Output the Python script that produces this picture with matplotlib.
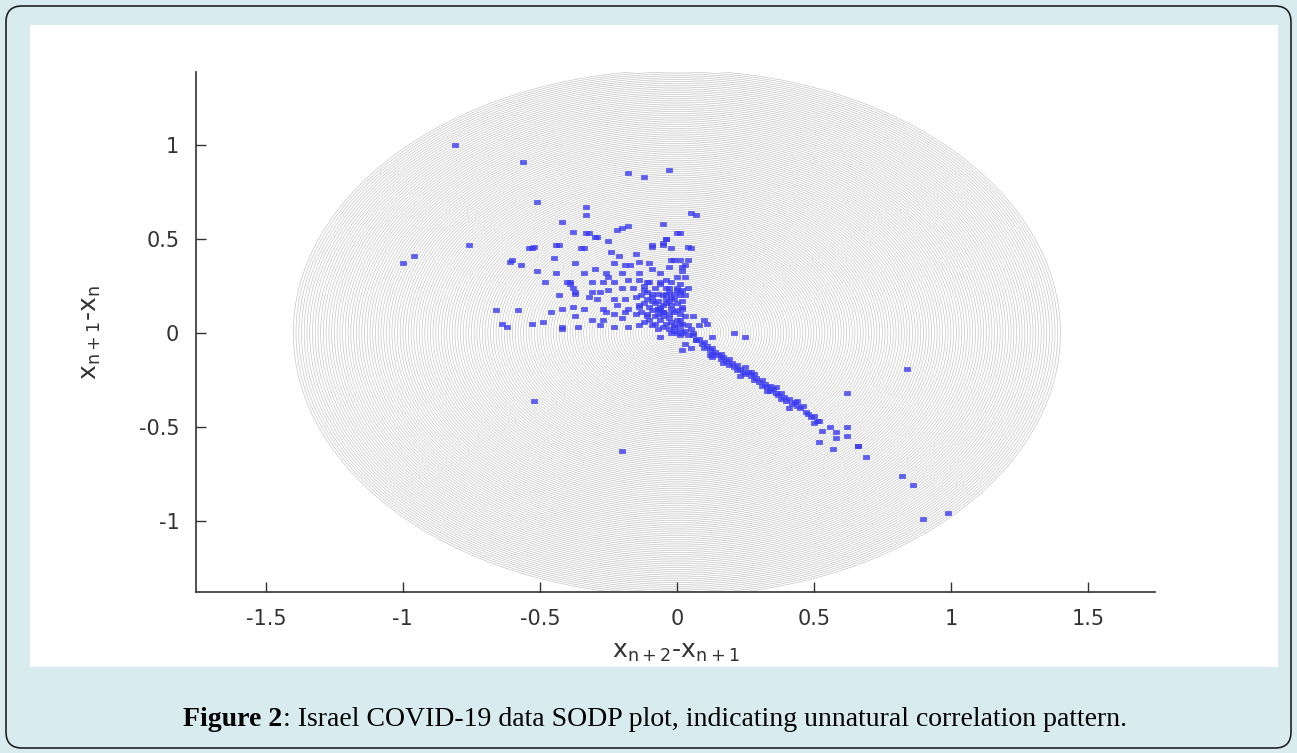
import numpy as np
import matplotlib
matplotlib.use("Agg")
import matplotlib.pyplot as plt
from matplotlib.patches import Circle, Rectangle, FancyBboxPatch
from matplotlib.collections import PatchCollection
from matplotlib.transforms import IdentityTransform

# SODP points: (x_{n+2}-x_{n+1}, x_{n+1}-x_n)
outlier_x = [-0.81, -0.56, -0.51, -0.18, -0.12, -0.03, 0.05, 0.07, -1.00, -0.96, -0.76,
             -0.52, -0.20, 0.62, 0.84, 0.82, 0.86, 0.90, 0.99, 0.69, 0.66]
outlier_y = [1.00, 0.91, 0.70, 0.85, 0.83, 0.87, 0.64, 0.63, 0.37, 0.41, 0.47,
             -0.36, -0.63, -0.32, -0.19, -0.76, -0.81, -0.99, -0.96, -0.66, -0.60]

fan_x = [-0.38, -0.32, -0.29, -0.25, -0.35, -0.24, -0.21, -0.15, -0.14, -0.19, -0.17, -0.23,
         -0.37, -0.30, -0.34, -0.26, -0.25, -0.20, -0.14, -0.09, -0.06, -0.10, -0.09, -0.05,
         -0.04, 0.00, 0.04, -0.01, -0.02, 0.01, 0.04, -0.03, 0.02, -0.40, -0.39, -0.37,
         -0.31, -0.27, -0.23, -0.18, -0.14, -0.11, -0.06, -0.04, 0.00, 0.02, -0.31, -0.28,
         -0.25, -0.20, -0.16, -0.12, -0.09, -0.32, -0.29, -0.23, -0.19, -0.15, -0.11, -0.07,
         -0.03, -0.42, -0.38, -0.34, -0.27, -0.22, -0.18, -0.14, -0.07, -0.05, -0.26, -0.23,
         -0.19, -0.15, -0.11, -0.31, -0.27, -0.20, -0.42, -0.36, -0.28, -0.23, -0.18, -0.14,
         -0.09, -0.06, 0.03, 0.07,
         -0.33, -0.33, -0.42, -0.33, -0.30, -0.22, -0.20, -0.18, -0.05, 0.01, -0.04, -0.05,
         -0.02, 0.05, -0.09, -0.43, -0.54, -0.52, -0.34, -0.45, -0.60,
         -0.61, -0.57, -0.53, -0.44, -0.51, -0.44, -0.48, -0.39, -0.38, -0.43, -0.37,
         -0.66, -0.58, -0.64, -0.62, -0.53, -0.49, -0.46, -0.42, -0.37]
fan_y = [0.54, 0.53, 0.51, 0.49, 0.45, 0.43, 0.41, 0.42, 0.38, 0.36, 0.36, 0.37,
         0.37, 0.34, 0.32, 0.32, 0.30, 0.32, 0.32, 0.34, 0.32, 0.37, 0.47, 0.48,
         0.50, 0.53, 0.46, 0.39, 0.39, 0.39, 0.39, 0.35, 0.35, 0.27, 0.26, 0.22,
         0.27, 0.27, 0.27, 0.28, 0.28, 0.27, 0.27, 0.24, 0.24, 0.23, 0.22, 0.22,
         0.23, 0.24, 0.24, 0.23, 0.21, 0.19, 0.18, 0.18, 0.18, 0.19, 0.18, 0.17,
         0.17, 0.13, 0.14, 0.13, 0.13, 0.15, 0.13, 0.14, 0.13, 0.11, 0.11, 0.10,
         0.11, 0.10, 0.09, 0.07, 0.07, 0.08, 0.03, 0.03, 0.04, 0.03, 0.03, 0.04,
         0.04, -0.02, -0.06, -0.04,
         0.67, 0.63, 0.59, 0.53, 0.51, 0.55, 0.56, 0.57, 0.58, 0.53, 0.50, 0.47,
         0.45, 0.45, 0.46, 0.47, 0.45, 0.46, 0.45, 0.40, 0.39,
         0.38, 0.36, 0.45, 0.47, 0.33, 0.32, 0.27, 0.27, 0.24, 0.20, 0.21,
         0.12, 0.12, 0.05, 0.03, 0.05, 0.06, 0.11, 0.02, 0.09]

core_x = [-0.12, -0.10, -0.08, -0.06, -0.04, -0.02, 0.00, 0.01, -0.13, -0.11, -0.09, -0.07,
          -0.05, -0.03, -0.01, 0.01, 0.02, -0.14, -0.12, -0.10, -0.08, -0.06, -0.04, -0.02,
          0.00, 0.02, -0.13, -0.11, -0.09, -0.07, -0.05, -0.03, -0.01, 0.01, 0.03, -0.12,
          -0.10, -0.08, -0.06, -0.04, -0.02, 0.00, 0.02, 0.04, -0.07, -0.05, -0.03, -0.01,
          0.01, 0.03, 0.00, -0.01, 0.01, 0.02, -0.02, 0.05, 0.04, 0.06, 0.02, 0.03, 0.03,
          0.04, 0.03, 0.06, 0.08, 0.11, 0.10, 0.02, 0.05, 0.21, 0.25, 0.13, 0.13,
          -0.01, 0.01, -0.03, -0.05, 0.00, -0.02, 0.02, -0.04, -0.01, 0.01, -0.03, 0.00,
          -0.06, -0.08, -0.05, -0.02, 0.01, -0.09, -0.07, -0.04]
core_y = [0.25, 0.27, 0.24, 0.26, 0.28, 0.27, 0.30, 0.26, 0.20, 0.22, 0.19, 0.21,
          0.20, 0.22, 0.21, 0.20, 0.17, 0.15, 0.16, 0.14, 0.16, 0.14, 0.16, 0.15,
          0.16, 0.13, 0.11, 0.10, 0.12, 0.10, 0.11, 0.10, 0.11, 0.10, 0.09, 0.06,
          0.07, 0.05, 0.07, 0.05, 0.06, 0.07, 0.05, 0.04, 0.02, 0.03, 0.02, 0.03,
          0.02, 0.01, 0.00, 0.01, -0.01, 0.00, 0.00, 0.02, -0.01, 0.00, 0.33, 0.30, 0.36,
          0.24, 0.20, 0.09, 0.04, 0.05, 0.07, -0.09, -0.08, 0.00, -0.02, -0.02, -0.13,
          0.04, 0.05, 0.08, 0.09, 0.12, 0.13, 0.14, 0.18, 0.18, 0.22, 0.24, 0.23,
          0.12, 0.09, 0.15, 0.19, 0.07, 0.17, 0.13, 0.21]

line_x = [0.06, 0.07, 0.08, 0.09, 0.10, 0.10, 0.11, 0.12, 0.13, 0.13, 0.14, 0.15, 0.16, 0.16,
          0.17, 0.18, 0.19, 0.19, 0.20, 0.21, 0.22, 0.22, 0.23, 0.24, 0.25, 0.25, 0.26, 0.27,
          0.28, 0.28, 0.29, 0.30, 0.31, 0.31, 0.32, 0.33, 0.34, 0.34, 0.35, 0.36, 0.37, 0.38,
          0.38, 0.39, 0.40, 0.41, 0.42, 0.43, 0.44, 0.45, 0.46, 0.47, 0.48, 0.49, 0.50, 0.51,
          0.50, 0.52, 0.53, 0.56, 0.58, 0.52, 0.57, 0.58, 0.62, 0.62, 0.66,
          0.12, 0.17, 0.23, 0.27, 0.33, 0.36, 0.41, 0.44]
line_y = [-0.01, -0.04, -0.03, -0.06, -0.05, -0.08, -0.07, -0.09, -0.08, -0.11, -0.10, -0.12,
          -0.11, -0.14, -0.13, -0.15, -0.14, -0.17, -0.16, -0.18, -0.17, -0.20, -0.19, -0.21,
          -0.18, -0.22, -0.21, -0.23, -0.22, -0.25, -0.24, -0.26, -0.25, -0.28, -0.27, -0.29,
          -0.28, -0.31, -0.30, -0.32, -0.33, -0.32, -0.35, -0.34, -0.36, -0.35, -0.38, -0.37,
          -0.39, -0.40, -0.39, -0.42, -0.43, -0.45, -0.44, -0.47, -0.48, -0.47, -0.52, -0.50,
          -0.53, -0.58, -0.62, -0.56, -0.50, -0.55, -0.60,
          -0.12, -0.16, -0.23, -0.21, -0.31, -0.29, -0.40, -0.36]

x_ticks = [-1.5, -1, -0.5, 0, 0.5, 1, 1.5]
x_labels = ['-1.5', '-1', '-0.5', '0', '0.5', '1', '1.5']
y_ticks = [-1, -0.5, 0, 0.5, 1]
y_labels = ['-1', '-0.5', '0', '0.5', '1']
ring_radii = np.arange(0.01, 1.405, 0.01)

W, H = 1297, 753
fig = plt.figure(figsize=(W / 100, H / 100), dpi=100)
fig.patch.set_facecolor('#d8ecf0')

# page frame and white panel
fig.patches.append(FancyBboxPatch((6, 5), W - 12, H - 11, boxstyle='round,pad=0,rounding_size=16',
                                  transform=IdentityTransform(), facecolor='#d8ecf0',
                                  edgecolor='#222222', linewidth=1.2, zorder=0))
fig.patches.append(Rectangle((30 / W, 1 - 667 / H), 1248 / W, 642 / H, transform=fig.transFigure,
                             facecolor='white', edgecolor='none', zorder=1))

ax = fig.add_axes([196 / W, 1 - 592 / H, 959 / W, 520 / H])
ax.set_facecolor('none')
ax.set_zorder(2)

rings = PatchCollection([Circle((0, 0), r) for r in ring_radii], facecolor='none',
                        edgecolor='#c6c6c6', linewidth=0.5)
ax.add_collection(rings)

xs = outlier_x + fan_x + core_x + line_x
ys = outlier_y + fan_y + core_y + line_y
dash = [(-1.5, -0.9), (1.5, -0.9), (1.5, 0.9), (-1.5, 0.9), (-1.5, -0.9)]
ax.plot(xs, ys, linestyle='none', marker=dash, markersize=4.6, color='#3a3af0',
        markeredgewidth=0.5, alpha=0.8)

ax.set_xlim(-1.755, 1.745)
ax.set_ylim(-1.38, 1.39)
ax.set_xticks(x_ticks)
ax.set_xticklabels(x_labels)
ax.set_yticks(y_ticks)
ax.set_yticklabels(y_labels)
for s in ['top', 'right']:
    ax.spines[s].set_visible(False)
for s in ['left', 'bottom']:
    ax.spines[s].set_color('#333333')
    ax.spines[s].set_linewidth(1.2)
ax.tick_params(direction='in', length=7, width=1, color='#333333', labelcolor='#333333',
               labelsize=15, pad=12)
for lab in ax.get_xticklabels() + ax.get_yticklabels():
    lab.set_family('DejaVu Sans')

ax.set_xlabel(r'$\mathregular{x_{n+2}}$-$\mathregular{x_{n+1}}$', fontsize=18,
              family='DejaVu Sans', color='#333333', labelpad=8)
ax.set_ylabel(r'$\mathregular{x_{n+1}}$-$\mathregular{x_{n}}$', fontsize=18,
              family='DejaVu Sans', color='#333333', labelpad=26)

# caption: bold lead-in followed by regular text
fig.canvas.draw()
r = fig.canvas.get_renderer()
cap_bold = 'Figure 2'
cap_rest = ': Israel COVID-19 data SODP plot, indicating unnatural correlation pattern.'
t1 = fig.text(0, 0, cap_bold, fontsize=20, family='Liberation Serif', weight='bold')
t2 = fig.text(0, 0, cap_rest, fontsize=20, family='Liberation Serif')
w1 = t1.get_window_extent(r).width
w2 = t2.get_window_extent(r).width
x0 = 655 - (w1 + w2) / 2
yc = 1 - 720 / H
t1.set_position((x0 / W, yc))
t2.set_position(((x0 + w1) / W, yc))
t1.set_va('center')
t2.set_va('center')

fig.savefig('out.png', dpi=100, facecolor=fig.get_facecolor())
